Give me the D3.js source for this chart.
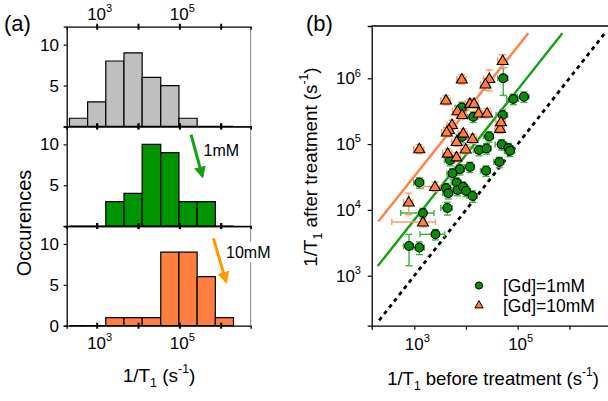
<!DOCTYPE html>
<html><head><meta charset="utf-8">
<script src="https://cdn.jsdelivr.net/npm/d3@7"></script>
<style>
body{margin:0;background:#fff}
text{font-family:"Liberation Sans",Arial,Helvetica,sans-serif;fill:#000}
</style>
</head><body>
<svg id="c" width="608" height="401"></svg>
<script>
// ---------- panel (a) data: histograms of 1/T1 ----------
const binEdges = [219, 603, 1660, 4571, 12589, 35481, 97724, 269153, 741310, 2041738];
const countsBefore = [1, 3, 8, 9, 6, 5, 1, 0, 0];
const counts1mM    = [0, 0, 3, 4, 10, 9, 3, 3, 0];
const counts10mM   = [0, 0, 1, 1, 1, 9, 9, 6, 1];
const histTicksX = [1e3, 1e4, 1e5, 1e6];
const histLabelsX = [1e3, 1e5];
const histTicksY = [0, 5, 10];
const histLabelsY = [["10", "5"], ["10", "5"], ["10", "5", "0"]];
const arrowLabels = ["1mM", "10mM"];
const arrow1mM  = [[1.92e5, 11.2], [3.6e5, 6.1]];
const arrow10mM = [[6.65e5, 10.7], [1.35e6, 5.4]];

// ---------- panel (b) data: after vs before ----------
const gd1Before = [5.26e4, 8.2e4, 1.32e5, 8.3e3, 1.38e4, 5.1e4, 8.3e3, 2.8e4, 4.9e4, 6.6e4, 7.1e4,
  1.78e4, 2.5e4, 4.9e3, 4.4e4, 1.19e4, 2.44e4, 7.6e3, 5.5e3, 1.25e3, 6.6e3, 4.1e3, 4.55e3,
  6.85e3, 8.75e3, 1.0e4, 1.34e4, 4.35e3, 1.47e3, 2.57e3, 7.9e2, 1.25e3];
const gd1After = [1.0e6, 4.85e5, 5.25e5, 3.6e5, 2.6e5, 2.77e5, 1.28e5, 1.31e5, 9.9e4, 8.7e4, 7.9e4,
  8.1e4, 8.6e4, 5.7e4, 5.35e4, 4.5e4, 3.94e4, 4.14e4, 3.6e4, 2.6e4, 2.6e4, 2.15e4, 1.79e4,
  2.0e4, 2.25e4, 1.94e4, 1.63e4, 1.07e4, 8.97e3, 4.26e3, 2.83e3, 2.68e3];
const gd1ErrX = [0.22, 0.25, 0.25, 0.25, 0.22, 0.25, 0.22, 0.22, 0.25, 0.25, 0.22,
  0.22, 0.22, 0.22, 0.22, 0.22, 0.22, 0.22, 0.22, 0.22, 0.22, 0.22, 0.22,
  0.22, 0.22, 0.22, 0.22, 0.25, 0.63, 0.5, 0.22, 0.25];
const gd1ErrY = [0.45, 0.18, 0.18, 0.2, 0.18, 0.2, 0.18, 0.18, 0.18, 0.18, 0.18,
  0.18, 0.18, 0.18, 0.18, 0.18, 0.18, 0.18, 0.18, 0.18, 0.18, 0.18, 0.18,
  0.18, 0.18, 0.18, 0.2, 0.22, 0.18, 0.18, 0.5, 0.22];

const gd10Before = [5.13e4, 8.3e3, 2.82e4, 2.38e4, 4.1e3, 1.19e4, 1.43e4, 6.85e3, 8.4e3, 1.75e4,
  2.55e4, 4.55e4, 4.75e4, 5.36e3, 4.69e3, 4.24e3, 8.87e3, 1.34e4, 6.6e3, 1.25e3, 4.43e3,
  6.55e3, 9.87e3, 2.51e3, 7.8e2, 1.47e3];
const gd10After = [1.87e6, 9.76e5, 9.93e5, 8.2e5, 4.68e5, 4.17e5, 4.17e5, 3.22e5, 2.82e5, 2.97e5,
  2.97e5, 1.74e5, 2.19e5, 1.99e5, 1.67e5, 1.53e5, 1.47e5, 1.22e5, 1.1e5, 8.5e4, 7.3e4,
  6.4e4, 8.43e4, 2.27e4, 1.32e4, 6.55e3];
const gd10ErrX = [0.2, 0.2, 0.22, 0.2, 0.2, 0.2, 0.2, 0.2, 0.2, 0.2,
  0.2, 0.2, 0.2, 0.2, 0.2, 0.2, 0.2, 0.2, 0.2, 0.22, 0.2,
  0.2, 0.2, 0.4, 0.2, 0.75];
const gd10ErrY = [0.22, 0.16, 0.35, 0.2, 0.16, 0.16, 0.16, 0.16, 0.16, 0.16,
  0.16, 0.16, 0.18, 0.16, 0.16, 0.16, 0.16, 0.16, 0.16, 0.16, 0.16,
  0.16, 0.16, 0.16, 0.36, 0.16];

const fit1mM  = [[1.96e2, 1.40e3], [7.3e5, 4.83e6]];
const fit10mM = [[2.01e2, 6.64e3], [1.60e5, 4.83e6]];
const identityLine = [[2.1e2, 2.1e2], [4.9e6, 4.9e6]];
const scatTicks = [1e3, 1e4, 1e5, 1e6];
const scatLabelsX = [1e3, 1e5];
const scatLabelsY = [1e3, 1e4, 1e5, 1e6];
const legendLabels = ["[Gd]=1mM", "[Gd]=10mM"];

// ---------- colours ----------
const cGray = "#bfbfbf", cGreen = "#009400", cOrange = "#ff7f40";
const cGreenMark = "#0b8a0b", cGreenErr = "#3cb43c", cOrangeErr = "#ff9a6a";
const cGreenLine = "#16a016", cOrangeLine = "#ff8048";
const cArrowG = "#14a014", cArrowO = "#ff9a00";

const svg = d3.select("#c");
const defs = svg.append("defs");
function marker(id, col) {
  defs.append("marker").attr("id", id).attr("viewBox", "0 0 10 10").attr("refX", 8).attr("refY", 5)
    .attr("markerWidth", 4).attr("markerHeight", 4).attr("orient", "auto")
    .append("path").attr("d", "M0,0 L10,5 L0,10 Z").attr("fill", col);
}
marker("ag", cArrowG); marker("ao", cArrowO);

function powLabel(g, x, y, exp, anchor, fs) {
  const t = g.append("text").attr("x", x).attr("y", y).attr("text-anchor", anchor).style("font-size", fs + "px");
  t.append("tspan").text("10");
  t.append("tspan").attr("dy", -fs * 0.45).style("font-size", (fs * 0.65) + "px").text(exp);
  return t;
}
function t1Title(g, x, y, mid, fs, rot) {
  const t = g.append("text").attr("text-anchor", "middle").style("font-size", fs + "px");
  if (rot) t.attr("transform", `translate(${x},${y}) rotate(-90)`); else t.attr("x", x).attr("y", y);
  t.append("tspan").text("1/T");
  t.append("tspan").attr("dy", fs * 0.3).style("font-size", (fs * 0.65) + "px").text("1");
  t.append("tspan").attr("dy", -fs * 0.3).text(mid + "(s");
  t.append("tspan").attr("dy", -fs * 0.45).style("font-size", (fs * 0.65) + "px").text("-1");
  t.append("tspan").attr("dy", fs * 0.45).text(")");
}

// ================= panel (a) =================
const xa = d3.scaleLog().domain([188, 5.32e6]).range([66.7, 250.7]);
const panelTops = [26.7, 126.4, 226.0];
const panelH = 99.7;
const histSets = [[countsBefore, cGray], [counts1mM, cGreen], [counts10mM, cOrange]];
const ga = svg.append("g");

histSets.forEach(([counts, col], p) => {
  const top = panelTops[p], bot = top + panelH;
  const ya = d3.scaleLinear().domain([0, 12.2]).range([bot, top]);
  const g = ga.append("g");
  g.selectAll("path.bar").data(counts).enter().append("path")
    .attr("d", (c, i) => {
      const x0 = xa(binEdges[i]), x1 = xa(binEdges[i + 1]);
      return `M${x0},${ya(0)}V${ya(c)}H${x1}V${ya(0)}Z`;
    })
    .attr("fill", col).attr("stroke", "#000").attr("stroke-width", 1.2);
  g.append("line").attr("x1", 250.7).attr("x2", 250.7).attr("y1", top).attr("y2", bot)
    .attr("stroke", "#666").attr("stroke-width", 0.8);
  const ax = d3.axisLeft(ya).tickValues(histTicksY).tickSize(3).tickFormat("");
  const ag = g.append("g").attr("transform", "translate(66.7,0)").call(ax);
  ag.select(".domain").attr("stroke", "#000").attr("stroke-width", 1.3);
  ag.selectAll(".tick line").attr("stroke-width", 1.2);
  histLabelsY[p].forEach(l => {
    g.append("text").attr("x", 59).attr("y", ya(+l) + 6).attr("text-anchor", "end")
      .style("font-size", "17px").text(l);
  });
  [top, bot].forEach(yy => {
    const hx = d3.axisBottom(xa).tickValues(histTicksX).tickSize(3).tickFormat("");
    const hg = g.append("g").attr("transform", `translate(0,${yy})`).call(hx);
    hg.select(".domain").attr("stroke", "#000").attr("stroke-width", 1.3);
    hg.selectAll(".tick line").attr("y1", -3).attr("y2", 3).attr("stroke-width", 2);
  });
});
histLabelsX.forEach(v => {
  powLabel(ga, xa(v) + 3, 19.5, Math.round(Math.log10(v)), "middle", 17);
  powLabel(ga, xa(v) + 3, 348.5, Math.round(Math.log10(v)), "middle", 17);
});
const yMid = d3.scaleLinear().domain([0, 12.2]).range([panelTops[1] + panelH, panelTops[1]]);
const yBot = d3.scaleLinear().domain([0, 12.2]).range([panelTops[2] + panelH, panelTops[2]]);
ga.append("line").attr("x1", xa(arrow1mM[0][0])).attr("y1", yMid(arrow1mM[0][1]))
  .attr("x2", xa(arrow1mM[1][0])).attr("y2", yMid(arrow1mM[1][1]))
  .attr("stroke", cArrowG).attr("stroke-width", 3).attr("marker-end", "url(#ag)");
ga.append("text").attr("x", 203.5).attr("y", 155.7).style("font-size", "16px").text(arrowLabels[0]);
ga.append("rect").attr("x", 225).attr("y", 242).attr("width", 46).attr("height", 20).attr("fill", "#fff");
ga.append("line").attr("x1", xa(arrow10mM[0][0])).attr("y1", yBot(arrow10mM[0][1]))
  .attr("x2", xa(arrow10mM[1][0])).attr("y2", yBot(arrow10mM[1][1]))
  .attr("stroke", cArrowO).attr("stroke-width", 3).attr("marker-end", "url(#ao)");
ga.append("text").attr("x", 226).attr("y", 258.3).style("font-size", "16px").text(arrowLabels[1]);

ga.append("text").attr("transform", "translate(31,223) rotate(-90)").attr("text-anchor", "middle")
  .style("font-size", "20px").text("Occurences");
t1Title(ga, 159, 381.7, " ", 19, false);
svg.append("text").attr("x", 4).attr("y", 31).style("font-size", "22px").text("(a)");

// ================= panel (b) =================
const xb = d3.scaleLog().domain([150, 1e7]).range([371.7, 621.1]);
const yb = d3.scaleLog().domain([10 ** 2.24, 10 ** 6.795]).range([325.7, 26]);
const gb = svg.append("g");
svg.append("text").attr("x", 306).attr("y", 31).style("font-size", "22px").text("(b)");

gb.append("line").attr("x1", 371.7).attr("x2", 608).attr("y1", 26).attr("y2", 26).attr("stroke", "#000").attr("stroke-width", 1.3);
const bxAxis = d3.axisBottom(xb).tickValues(scatTicks).tickSize(4).tickFormat("");
const bxg = gb.append("g").attr("transform", "translate(0,325.7)").call(bxAxis);
bxg.select(".domain").attr("stroke", "#000").attr("stroke-width", 1.3);
bxg.selectAll(".tick line").attr("stroke-width", 1.2);
const byAxis = d3.axisLeft(yb).tickValues(scatTicks).tickSize(4).tickFormat("");
const byg = gb.append("g").attr("transform", "translate(371.7,0)").call(byAxis);
byg.select(".domain").attr("stroke", "#000").attr("stroke-width", 1.3);
byg.selectAll(".tick line").attr("stroke-width", 1.2);
scatLabelsX.forEach(v => powLabel(gb, xb(v) + 3, 349.5, Math.round(Math.log10(v)), "middle", 17));
scatLabelsY.forEach(v => powLabel(gb, 361, yb(v) + 6, Math.round(Math.log10(v)), "end", 17));

const clip = defs.append("clipPath").attr("id", "clipb");
clip.append("rect").attr("x", 371.7).attr("y", 26).attr("width", 240).attr("height", 300);
const lineB = d3.line().x(d => xb(d[0])).y(d => yb(d[1]));
const lg = gb.append("g").attr("clip-path", "url(#clipb)");
lg.append("path").attr("d", lineB(identityLine)).attr("fill", "none").attr("stroke", "#000")
  .attr("stroke-width", 2.8).attr("stroke-dasharray", "4,4");
lg.append("path").attr("d", lineB(fit1mM)).attr("fill", "none").attr("stroke", cGreenLine).attr("stroke-width", 2.4);
lg.append("path").attr("d", lineB(fit10mM)).attr("fill", "none").attr("stroke", cOrangeLine).attr("stroke-width", 2.4);

function errBars(g, xs, ys, exs, eys, col) {
  xs.forEach((x, i) => {
    const y = ys[i], ex = exs[i] * x, ey = eys[i] * y;
    const px = xb(x), py = yb(y);
    const x0 = xb(x - ex), x1 = xb(x + ex), y0 = yb(y - ey), y1 = yb(y + ey);
    const L = (a, b, c, d) => g.append("line").attr("x1", a).attr("y1", b).attr("x2", c).attr("y2", d)
      .attr("stroke", col).attr("stroke-width", 1.4);
    L(x0, py, x1, py); L(x0, py - 3, x0, py + 3); L(x1, py - 3, x1, py + 3);
    L(px, y0, px, y1); L(px - 3.5, y0, px + 3.5, y0); L(px - 3.5, y1, px + 3.5, y1);
  });
}
const eg = gb.append("g");
errBars(eg, gd1Before, gd1After, gd1ErrX, gd1ErrY, cGreenErr);
errBars(eg, gd10Before, gd10After, gd10ErrX, gd10ErrY, cOrangeErr);

const triPath = d3.symbol().type(d3.symbolTriangle).size(52);
gb.append("g").selectAll("circle").data(gd1Before).enter().append("circle")
  .attr("cx", d => xb(d)).attr("cy", (d, i) => yb(gd1After[i])).attr("r", 4.4)
  .attr("fill", cGreenMark).attr("stroke", "#000").attr("stroke-width", 1.1);
gb.append("g").selectAll("path").data(gd10Before).enter().append("path")
  .attr("d", triPath)
  .attr("transform", (d, i) => `translate(${xb(d)},${yb(gd10After[i]) + 0.9})`)
  .attr("fill", cOrange).attr("stroke", "#000").attr("stroke-width", 1.1);

gb.append("circle").attr("cx", 479).attr("cy", 285.5).attr("r", 3.6)
  .attr("fill", cGreenMark).attr("stroke", "#000").attr("stroke-width", 1);
gb.append("path").attr("d", d3.symbol().type(d3.symbolTriangle).size(30))
  .attr("transform", "translate(479,305.5)").attr("fill", cOrange).attr("stroke", "#000").attr("stroke-width", 1);
gb.append("text").attr("x", 503).attr("y", 291.5).style("font-size", "17.5px").text(legendLabels[0]);
gb.append("text").attr("x", 503).attr("y", 311.5).style("font-size", "17.5px").text(legendLabels[1]);

t1Title(gb, 493, 384.5, " before treatment ", 18.5, false);
t1Title(gb, 316.5, 167, " after treatment ", 18.8, true);
</script>
</body></html>
